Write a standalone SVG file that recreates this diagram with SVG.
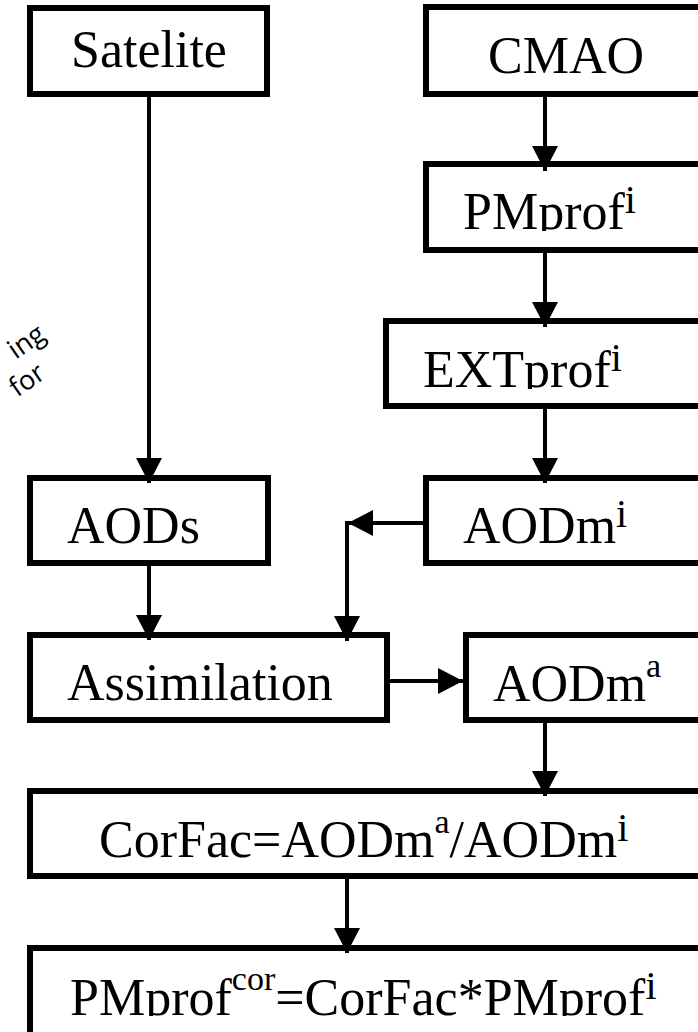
<svg xmlns="http://www.w3.org/2000/svg" width="698" height="1032" viewBox="0 0 698 1032">
<style>
.box{fill:#fff;stroke:#000;stroke-width:6}
.t{font-family:"Liberation Serif","Times New Roman",serif;font-size:52px;fill:#000}
.sup{font-size:34px}
.supi{font-size:40px}
.conn{stroke:#000;stroke-width:4;fill:none;marker-end:url(#ah)}
.side{font-family:"Open Sans","DejaVu Sans",sans-serif;font-size:27px;fill:#000}
</style>
<defs>
<marker id="ah" markerUnits="userSpaceOnUse" markerWidth="25" markerHeight="26" refX="25" refY="13" orient="auto" viewBox="0 0 25 26">
<path d="M0,0 L25,13 L0,26 z" fill="#000"/>
</marker>
<clipPath id="c1"><rect x="426" y="164" width="300" height="67"/></clipPath>
<clipPath id="c2"><rect x="386" y="321" width="340" height="68"/></clipPath>
<clipPath id="c3"><rect x="30" y="948" width="700" height="68"/></clipPath>
</defs>
<rect width="698" height="1032" fill="#fff"/>
<g id="side-label">
<text class="side" x="47" y="338" text-anchor="end" transform="rotate(-35 47 338)">ing</text>
<text class="side" x="47" y="377" text-anchor="end" transform="rotate(-35 47 377)">for</text>
</g>
<g id="satelite"><rect class="box" x="30" y="8" width="237" height="86"/><text class="t" x="71" y="67">Satelite</text></g>
<g id="cmao"><rect class="box" x="426" y="7" width="300" height="87"/><text class="t" x="488" y="73">CMAO</text></g>
<g id="pmprof"><rect class="box" x="426" y="164" width="300" height="86"/><text class="t" x="463" y="229" clip-path="url(#c1)">PMprof<tspan class="supi" dy="-16">i</tspan></text></g>
<g id="extprof"><rect class="box" x="386" y="321" width="340" height="85"/><text class="t" x="423" y="387" clip-path="url(#c2)">EXTprof<tspan class="supi" dy="-16">i</tspan></text></g>
<g id="aods"><rect class="box" x="30" y="478" width="238" height="85"/><text class="t" x="67" y="543">AODs</text></g>
<g id="aodmi"><rect class="box" x="426" y="478" width="300" height="85"/><text class="t" x="463" y="543">AODm<tspan class="supi" dy="-16">i</tspan></text></g>
<g id="assimilation"><rect class="box" x="30" y="635" width="357" height="85"/><text class="t" x="67" y="700">Assimilation</text></g>
<g id="aodma"><rect class="box" x="466" y="635" width="260" height="85"/><text class="t" x="493" y="701">AODm<tspan class="sup" dy="-24">a</tspan></text></g>
<g id="corfac"><rect class="box" x="30" y="791" width="700" height="85"/><text class="t" x="99" y="857">CorFac=AODm<tspan class="sup" dy="-24">a</tspan><tspan dy="24">/AODm</tspan><tspan class="supi" dy="-16">i</tspan></text></g>
<g id="pmprofcor"><rect class="box" x="30" y="948" width="700" height="100"/><text class="t" x="70" y="1015" clip-path="url(#c3)">PMprof<tspan class="sup" dy="-25">cor</tspan><tspan dy="25">=CorFac*PMprof</tspan><tspan class="supi" dy="-16">i</tspan></text></g>
<g id="connectors">
<line class="conn" x1="149" y1="97" x2="149" y2="483"/>
<line class="conn" x1="545" y1="97" x2="545" y2="171"/>
<line class="conn" x1="545" y1="253" x2="545" y2="327"/>
<line class="conn" x1="545" y1="409" x2="545" y2="483"/>
<line class="conn" x1="149" y1="566" x2="149" y2="640"/>
<line class="conn" x1="423" y1="523" x2="348" y2="523"/>
<line class="conn" x1="347" y1="521" x2="347" y2="641"/>
<line class="conn" x1="390" y1="681" x2="463" y2="681"/>
<line class="conn" x1="545" y1="723" x2="545" y2="796"/>
<line class="conn" x1="347" y1="879" x2="347" y2="953"/>
</g>
</svg>
